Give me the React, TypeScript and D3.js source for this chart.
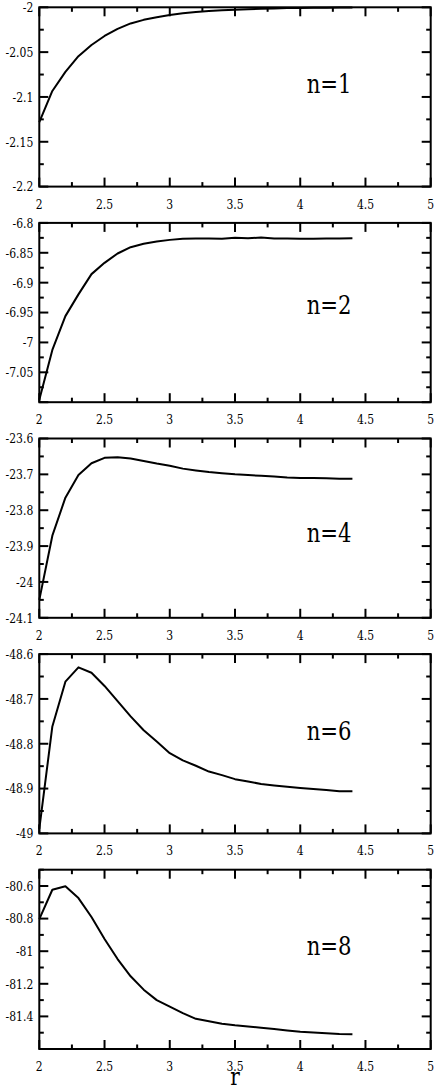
import React from "react";
import * as d3 from "d3";

const rValues = [2.0, 2.1, 2.2, 2.3, 2.4, 2.5, 2.6, 2.7, 2.8, 2.9, 3.0, 3.1, 3.2, 3.3, 3.4, 3.5, 3.6, 3.7, 3.8, 3.9, 4.0, 4.1, 4.2, 4.3, 4.4];

const energyN1 = [-2.128, -2.0933, -2.072, -2.0545, -2.042, -2.032, -2.024, -2.018, -2.014, -2.011, -2.0086, -2.0067, -2.0052, -2.0042, -2.0034, -2.0027, -2.0021, -2.0016, -2.0012, -2.0009, -2.0007, -2.0005, -2.0004, -2.0003, -2.0002];
const energyN2 = [-7.096, -7.0126, -6.956, -6.9196, -6.8857, -6.8668, -6.8512, -6.8406, -6.835, -6.8312, -6.8284, -6.8267, -6.8262, -6.8262, -6.8267, -6.825, -6.8256, -6.8245, -6.8262, -6.8262, -6.8265, -6.8265, -6.8262, -6.8262, -6.8256];
const energyN4 = [-24.05, -23.871, -23.765, -23.702, -23.669, -23.654, -23.652, -23.656, -23.663, -23.67, -23.676, -23.684, -23.689, -23.6935, -23.697, -23.7, -23.702, -23.704, -23.706, -23.709, -23.71, -23.71, -23.711, -23.712, -23.712];
const energyN6 = [-48.99, -48.7615, -48.6615, -48.6296, -48.6415, -48.671, -48.705, -48.739, -48.77, -48.795, -48.821, -48.837, -48.849, -48.862, -48.87, -48.879, -48.884, -48.89, -48.893, -48.896, -48.8985, -48.901, -48.903, -48.906, -48.906];
const energyN8 = [-80.803, -80.623, -80.602, -80.674, -80.79, -80.925, -81.048, -81.154, -81.236, -81.3, -81.34, -81.38, -81.415, -81.43, -81.445, -81.455, -81.462, -81.47, -81.478, -81.486, -81.494, -81.499, -81.504, -81.508, -81.51];

const xTickValues = [2, 2.5, 3, 3.5, 4, 4.5, 5];
const xTickLabels = ["2", "2.5", "3", "3.5", "4", "4.5", "5"];

const panelNames = ["n=1", "n=2", "n=4", "n=6", "n=8"];
const panelSeries = [energyN1, energyN2, energyN4, energyN6, energyN8];
const yDomains: [number, number][] = [[-2.2, -2], [-7.1, -6.8], [-24.1, -23.6], [-49, -48.6], [-81.6, -80.5]];
const yMajorTicks = [
  [-2, -2.05, -2.1, -2.15, -2.2],
  [-6.8, -6.85, -6.9, -6.95, -7, -7.05, -7.1],
  [-23.6, -23.7, -23.8, -23.9, -24, -24.1],
  [-48.6, -48.7, -48.8, -48.9, -49],
  [-80.6, -80.8, -81, -81.2, -81.4, -81.6],
];
const yTickLabels = [
  ["-2", "-2.05", "-2.1", "-2.15", "-2.2"],
  ["-6.8", "-6.85", "-6.9", "-6.95", "-7", "-7.05", ""],
  ["-23.6", "-23.7", "-23.8", "-23.9", "-24", "-24.1"],
  ["-48.6", "-48.7", "-48.8", "-48.9", "-49"],
  ["-80.6", "-80.8", "-81", "-81.2", "-81.4", ""],
];
const yMinorStep = [0.025, 0.025, 0.05, 0.05, 0.1];
const xAxisLabel = "r";

// layout
const W = 436;
const H = 1090;
const left = 39.3;
const right = 430.7;
const firstTop = 7.3;
const panelPitch = 215.6;
const panelHeight = 179.3;
const labelOffsets = [85.4, 90.6, 103.4, 85.7, 85];
const majorLen = 9;
const minorLen = 4.5;
const font = "'DejaVu Serif', serif";
const squeeze = 0.8;

function SText({ x, y, size, anchor, dy, children }: { x: number; y: number; size: number; anchor?: string; dy?: string; children: React.ReactNode }) {
  return (
    <text
      transform={`translate(${x},${y}) scale(${squeeze},1)`}
      dy={dy}
      textAnchor={anchor || "start"}
      fontSize={size}
      style={{ fontFamily: font }}
    >
      {children}
    </text>
  );
}

function Panel({ idx }: { idx: number }) {
  const top = firstTop + idx * panelPitch;
  const bottom = top + panelHeight;
  const x = d3.scaleLinear().domain([2, 5]).range([left, right]);
  const [y0, y1] = yDomains[idx];
  const y = d3.scaleLinear().domain([y0, y1]).range([bottom, top]);
  const series = panelSeries[idx];
  const line = d3
    .line<number>()
    .x((_, i) => x(rValues[i]))
    .y((d) => y(d));
  const majors = yMajorTicks[idx];
  const step = yMinorStep[idx];
  const minors: number[] = [];
  const nMin = Math.round((y1 - y0) / step);
  for (let k = 0; k <= nMin; k++) {
    const v = y0 + k * step;
    if (!majors.some((m) => Math.abs(m - v) < step / 10)) minors.push(v);
  }
  const xMinors = xTickValues.slice(0, -1).map((v) => v + 0.25);
  return (
    <g>
      <path d={line(series) || ""} fill="none" stroke="#000" strokeWidth={2} strokeLinejoin="round" />
      {xTickValues.map((v) => (
        <g key={"xM" + v}>
          <line x1={x(v)} x2={x(v)} y1={bottom} y2={bottom - majorLen} stroke="#000" strokeWidth={2} />
          <line x1={x(v)} x2={x(v)} y1={top} y2={top + majorLen} stroke="#000" strokeWidth={2} />
        </g>
      ))}
      {xMinors.map((v) => (
        <g key={"xm" + v}>
          <line x1={x(v)} x2={x(v)} y1={bottom} y2={bottom - minorLen} stroke="#000" strokeWidth={2} />
          <line x1={x(v)} x2={x(v)} y1={top} y2={top + minorLen} stroke="#000" strokeWidth={2} />
        </g>
      ))}
      {majors.map((v) => (
        <g key={"yM" + v}>
          <line x1={left} x2={left + majorLen} y1={y(v)} y2={y(v)} stroke="#000" strokeWidth={2} />
          <line x1={right} x2={right - majorLen} y1={y(v)} y2={y(v)} stroke="#000" strokeWidth={2} />
        </g>
      ))}
      {minors.map((v) => (
        <g key={"ym" + v}>
          <line x1={left} x2={left + minorLen} y1={y(v)} y2={y(v)} stroke="#000" strokeWidth={2} />
          <line x1={right} x2={right - minorLen} y1={y(v)} y2={y(v)} stroke="#000" strokeWidth={2} />
        </g>
      ))}
      <rect x={left} y={top} width={right - left} height={bottom - top} fill="none" stroke="#000" strokeWidth={2} />
      {xTickValues.map((v, i) => (
        <SText key={"xl" + v} x={x(v)} y={bottom + 22} anchor="middle" size={13.5}>
          {xTickLabels[i]}
        </SText>
      ))}
      {majors.map((v, i) => (
        <SText key={"yl" + v} x={left - 6} y={y(v)} dy="0.36em" anchor="end" size={13.5}>
          {yTickLabels[idx][i]}
        </SText>
      ))}
      <SText x={306.7} y={top + labelOffsets[idx]} size={26.5}>
        {panelNames[idx]}
      </SText>
    </g>
  );
}

export default function App() {
  return (
    <svg width={W} height={H} style={{ position: "absolute", left: 0, top: 0, background: "#fff" }}>
      <rect x={0} y={0} width={W} height={H} fill="#fff" />
      {panelNames.map((_, i) => (
        <Panel key={i} idx={i} />
      ))}
      <SText x={235} y={1085} anchor="middle" size={25}>
        {xAxisLabel}
      </SText>
    </svg>
  );
}
